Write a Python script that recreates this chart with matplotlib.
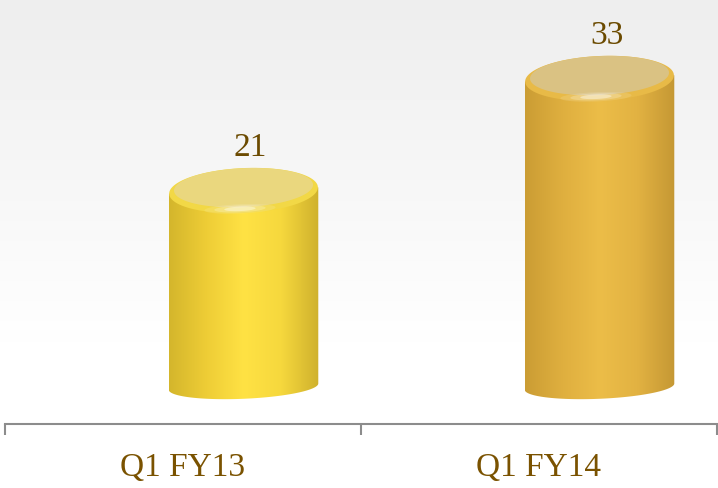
import numpy as np
import matplotlib
matplotlib.use("Agg")
import matplotlib.pyplot as plt
from matplotlib.path import Path
from matplotlib.patches import Polygon
from matplotlib.colors import LinearSegmentedColormap, to_rgb

categories = ["Q1 FY13", "Q1 FY14"]
values = [21, 33]

body_stops = [
    ["#D4B62C", "#EECD36", "#FFE244", "#F6D83D", "#CFB12D"],
    ["#CB9D34", "#DFAF3F", "#ECBD48", "#E2B242", "#C59834"],
]
top_colors = ["#EAD77E", "#DAC283"]
rim_colors = ["#F2D846", "#E8BA47"]
text_color = "#6B4A00"
label_color = "#7A5200"

fig = plt.figure(figsize=(7.18, 4.89), dpi=100)

# background gradient
bg = fig.add_axes([0, 0, 1, 1], zorder=-2)
g = np.linspace(0, 1, 256)[:, None]
top = np.array(to_rgb("#EEEEEE"))
bot = np.array(to_rgb("#FFFFFF"))
t = np.clip(g / 0.7, 0, 1)
img = top[None, None, :] * (1 - t[..., None]) + bot[None, None, :] * t[..., None]
bg.imshow(img, aspect="auto", extent=[0, 1, 0, 1], origin="upper")
bg.set_axis_off()

ax = fig.add_axes([5 / 718, (489 - 425) / 489, 712 / 718, 425 / 489])
ax.patch.set_alpha(0)
ax.set_xlim(0, 2)
ax.set_ylim(-4, 41.5)

offset = 0.17
width = 0.42
b_top = 2.4
b_bot = 1.3
shear = 1.6


def ell(cx, cy, a, b, t0=0, t1=2 * np.pi, n=100):
    th = np.linspace(t0, t1, n)
    xs = cx + a * np.cos(th)
    ys = cy + b * np.sin(th) + shear * (xs - cx)
    return list(zip(xs, ys))


for i, (cat, v) in enumerate(zip(categories, values)):
    cx = i + 0.5 + offset
    a = width / 2
    x0, x1 = cx - a, cx + a
    verts = [(x0, v - shear * a)] + ell(cx, 0, a, b_bot, np.pi, 2 * np.pi) + [(x1, v + shear * a), (x0, v - shear * a)]
    path = Path(verts, closed=True)
    cmap = LinearSegmentedColormap.from_list("c%d" % i, body_stops[i])
    grad = np.linspace(0, 1, 256)[None, :]
    im = ax.imshow(grad, cmap=cmap, aspect="auto", extent=[x0, x1, -b_bot - 1, v + 1], origin="lower",
                   zorder=2, interpolation="bicubic")
    im.set_clip_path(path, ax.transData)
    # rim
    ax.add_patch(Polygon(ell(cx, v, a * 0.995, b_top), closed=True, facecolor=rim_colors[i],
                         edgecolor="none", zorder=3))
    # top face
    ax.add_patch(Polygon(ell(cx, v + 0.3, a * 0.93, b_top * 0.87), closed=True,
                         facecolor=top_colors[i], edgecolor="none", zorder=4))
    # highlight on front rim
    for k, al in enumerate([0.12, 0.22, 0.4]):
        hx = cx - 0.01
        ax.add_patch(Polygon(ell(hx, v - b_top * 0.82, 0.1 - k * 0.028, 0.5 - k * 0.13),
                             closed=True, facecolor="white", edgecolor="none", alpha=al, zorder=5))
    ax.text(cx + 0.02, v + b_top + 0.6, str(v), ha="center", va="bottom", fontsize=24,
            color=text_color, family="Liberation Serif")
    ax.text(i + 0.5, -0.1, cat, transform=ax.get_xaxis_transform(), ha="center", va="center",
            fontsize=24, color=label_color, family="Liberation Serif")

for s in ["top", "right", "left"]:
    ax.spines[s].set_visible(False)
ax.spines["bottom"].set_color("#8C8C8C")
ax.spines["bottom"].set_linewidth(1.5)
ax.set_yticks([])
ax.set_xticks([0, 1, 2])
ax.set_xticklabels([])
ax.tick_params(axis="x", length=8, width=1.5, color="#8C8C8C")

fig.savefig("out.png", dpi=100)
